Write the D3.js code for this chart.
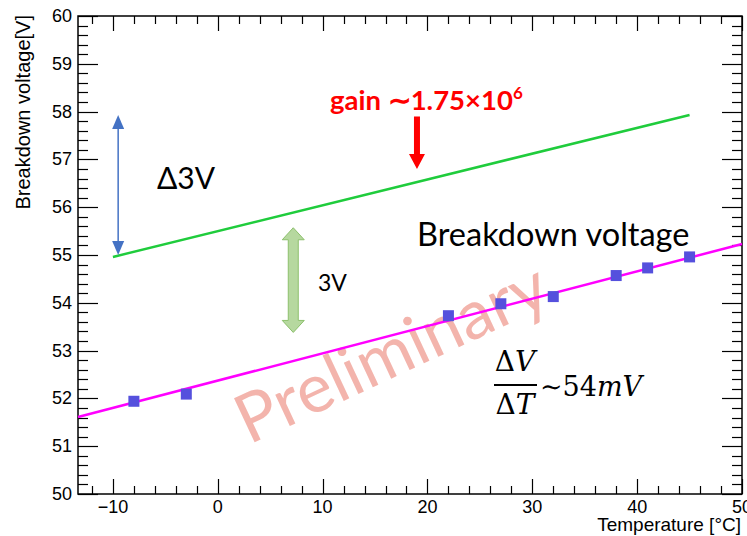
<!DOCTYPE html>
<html>
<head>
<meta charset="utf-8">
<script src="https://cdn.jsdelivr.net/npm/d3@7"></script>
<style>
  html, body { margin: 0; padding: 0; background: #fff; }
  svg { display: block; }
</style>
</head>
<body>
<svg id="chart" width="747" height="536"></svg>
<script>
// Measured breakdown voltage vs temperature
const temps = [-8, -3, 22, 27, 32, 38, 41, 45];
const vbd   = [51.94, 52.09, 53.73, 53.98, 54.13, 54.57, 54.73, 54.96];

// Linear fit of the breakdown voltage (end points across the frame)
const fitT = [-13.33, 50];
const fitV = [51.61, 55.23];

// Operating voltage for gain ~1.75e6 (breakdown + 3 V)
const gainT = [-10, 45];
const gainV = [54.96, 57.93];

// Axis ticks
const xMajor = [-10, 0, 10, 20, 30, 40, 50];
const yMajor = [50, 51, 52, 53, 54, 55, 56, 57, 58, 59, 60];
const xMinor = d3.range(-12, 50.01, 2);
const yMinor = d3.range(50, 60.001, 0.2);

const svg = d3.select("#chart");
const x = d3.scaleLinear().domain([-13.33, 50]).range([78, 742]);
const y = d3.scaleLinear().domain([50, 60]).range([494, 16]);

const axisFont = "'Liberation Sans', Arial, Helvetica, sans-serif";
const annFont = "Lato, 'Open Sans', sans-serif";

// Frame ticks (ROOT style: ticks on all four sides)
const tk = svg.append("g").attr("stroke", "#000").attr("stroke-width", 1.2);
function hTicks(vals, len) {
  vals.forEach(v => {
    const yy = Math.round(y(v)) + 0.5;
    tk.append("line").attr("x1", x.range()[0]).attr("x2", x.range()[0] + len).attr("y1", yy).attr("y2", yy);
    tk.append("line").attr("x1", x.range()[1]).attr("x2", x.range()[1] - len).attr("y1", yy).attr("y2", yy);
  });
}
function vTicks(vals, len) {
  vals.forEach(v => {
    const xx = Math.round(x(v)) + 0.5;
    tk.append("line").attr("x1", xx).attr("x2", xx).attr("y1", y.range()[0]).attr("y2", y.range()[0] - len);
    tk.append("line").attr("x1", xx).attr("x2", xx).attr("y1", y.range()[1]).attr("y2", y.range()[1] + len);
  });
}
hTicks(yMajor, 20);
hTicks(yMinor.filter(v => Math.abs(v - Math.round(v)) > 1e-6), 10);
vTicks(xMajor, 15);
vTicks(xMinor.filter(v => v % 10 !== 0), 8);

svg.append("rect")
  .attr("x", x.range()[0]).attr("y", y.range()[1])
  .attr("width", x.range()[1] - x.range()[0]).attr("height", y.range()[0] - y.range()[1])
  .attr("fill", "none").attr("stroke", "#000").attr("stroke-width", 1.5);

// Tick labels
svg.append("g").selectAll("text").data(yMajor).join("text")
  .attr("x", 72).attr("y", d => y(d))
  .attr("text-anchor", "end").attr("dominant-baseline", "central")
  .attr("font-family", axisFont).attr("font-size", 18).attr("fill", "#000")
  .text(d => d);
svg.append("g").selectAll("text").data(xMajor).join("text")
  .attr("x", d => x(d)).attr("y", 513)
  .attr("text-anchor", "middle")
  .attr("font-family", axisFont).attr("font-size", 18).attr("fill", "#000")
  .text(d => d < 0 ? "\u2212" + Math.abs(d) : d);

// Axis titles
svg.append("text")
  .attr("transform", "translate(30,15) rotate(-90)")
  .attr("text-anchor", "end")
  .attr("font-family", axisFont).attr("font-size", 20).attr("fill", "#000")
  .text("Breakdown voltage[V]");
svg.append("text")
  .attr("x", 741).attr("y", 531).attr("text-anchor", "end")
  .attr("font-family", axisFont).attr("font-size", 19).attr("fill", "#000")
  .text("Temperature [\u00B0C]");

// Watermark
svg.append("text")
  .attr("transform", "translate(390,350) rotate(-25)")
  .attr("text-anchor", "middle").attr("dominant-baseline", "central")
  .attr("font-family", annFont).attr("font-size", 68)
  .attr("fill", "rgb(236,140,128)").attr("fill-opacity", 0.65)
  .text("Preliminary");

// Fit line and operating-voltage line
const line = d3.line().x(d => x(d[0])).y(d => y(d[1]));
svg.append("path").datum(d3.zip(fitT, fitV)).attr("d", line)
  .attr("fill", "none").attr("stroke", "#ff00ff").attr("stroke-width", 2.5);
svg.append("path").datum(d3.zip(gainT, gainV)).attr("d", line)
  .attr("fill", "none").attr("stroke", "#1fcc3c").attr("stroke-width", 2.5);

// Data points
svg.append("g").selectAll("rect").data(d3.zip(temps, vbd)).join("rect")
  .attr("x", d => x(d[0]) - 5.5).attr("y", d => y(d[1]) - 5.5)
  .attr("width", 11).attr("height", 11)
  .attr("fill", "#5550dd");

// Blue double arrow spanning the voltage change
const blue = "#4472c4";
const bx = x(-9.5), bTop = y(57.93), bBot = y(55.0);
svg.append("line").attr("x1", bx).attr("x2", bx).attr("y1", bTop + 10).attr("y2", bBot - 10)
  .attr("stroke", blue).attr("stroke-width", 1.5);
svg.append("path").attr("d", `M${bx},${bTop} L${bx - 6},${bTop + 14} L${bx + 6},${bTop + 14} Z`).attr("fill", blue);
svg.append("path").attr("d", `M${bx},${bBot} L${bx - 6},${bBot - 14} L${bx + 6},${bBot - 14} Z`).attr("fill", blue);
svg.append("text").attr("x", 157).attr("y", 189)
  .attr("font-family", annFont).attr("font-size", 30).attr("fill", "#000").text("\u03943V");

// Green block double arrow (3 V offset)
const gx = x(7.2), gTop = y(55.57), gBot = y(53.38);
const sw = 5, hw = 11, hl = 12;
svg.append("path")
  .attr("d", `M${gx},${gTop} L${gx + hw},${gTop + hl} L${gx + sw},${gTop + hl} L${gx + sw},${gBot - hl} L${gx + hw},${gBot - hl} L${gx},${gBot} L${gx - hw},${gBot - hl} L${gx - sw},${gBot - hl} L${gx - sw},${gTop + hl} L${gx - hw},${gTop + hl} Z`)
  .attr("fill", "#a9d18e").attr("fill-opacity", 0.85)
  .attr("stroke", "#8cc06c").attr("stroke-width", 1);
svg.append("text").attr("x", 318).attr("y", 291)
  .attr("font-family", annFont).attr("font-size", 23).attr("fill", "#000").text("3V");

// Red gain label and arrow
const rx = x(19), rTop = y(57.9), rTip = y(56.8);
svg.append("path")
  .attr("d", `M${rx - 3},${rTop} L${rx + 3},${rTop} L${rx + 3},${rTip - 15} L${rx + 8},${rTip - 15} L${rx},${rTip} L${rx - 8},${rTip - 15} L${rx - 3},${rTip - 15} Z`)
  .attr("fill", "#ff0000");
const gt = svg.append("text").attr("x", 330).attr("y", 110)
  .attr("font-family", annFont).attr("font-weight", "bold").attr("font-size", 27.5).attr("fill", "#ff0000");
gt.append("tspan").text("gain \u223C1.75\u00D710");
gt.append("tspan").attr("dy", -11).attr("font-size", 17).text("6");

svg.append("text").attr("x", 417).attr("y", 246)
  .attr("font-family", annFont).attr("font-size", 32.5).attr("fill", "#000").text("Breakdown voltage");

// Slope formula dV/dT ~ 54 mV
const ff = "'DejaVu Serif', 'Liberation Serif', serif";
const num = svg.append("text").attr("x", 515).attr("y", 371).attr("text-anchor", "middle")
  .attr("font-family", ff).attr("font-size", 28).attr("fill", "#000");
num.append("tspan").text("\u0394");
num.append("tspan").attr("font-style", "italic").text("V");
svg.append("line").attr("x1", 494).attr("x2", 537).attr("y1", 385).attr("y2", 385)
  .attr("stroke", "#000").attr("stroke-width", 2.2);
const den = svg.append("text").attr("x", 515).attr("y", 414).attr("text-anchor", "middle")
  .attr("font-family", ff).attr("font-size", 28).attr("fill", "#000");
den.append("tspan").text("\u0394");
den.append("tspan").attr("font-style", "italic").text("T");
const rhs = svg.append("text").attr("x", 540).attr("y", 396)
  .attr("font-family", ff).attr("font-size", 27).attr("fill", "#000");
rhs.append("tspan").text("\u223C54");
rhs.append("tspan").attr("font-style", "italic").text("mV");
</script>
</body>
</html>
